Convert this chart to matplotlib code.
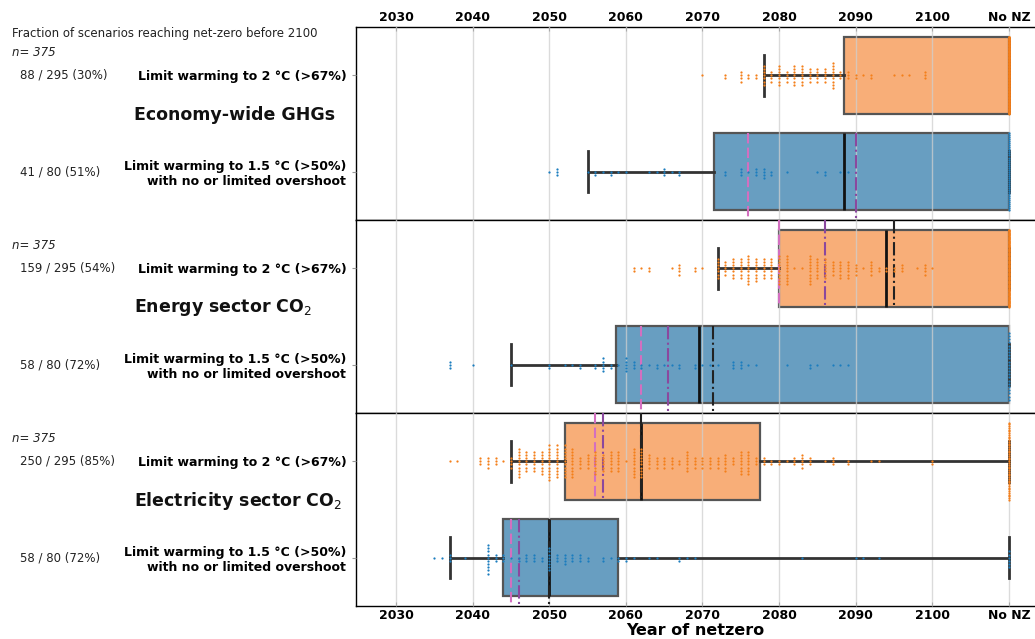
import numpy as np
import matplotlib
matplotlib.use("Agg")
import matplotlib.pyplot as plt
from matplotlib.transforms import blended_transform_factory

NO_NZ = 2110  # plotting position for "No net-zero"

# ---------------- data (year of net-zero -> number of scenarios) ----------------
sectors = ["Economy-wide GHGs", "Energy sector CO$_2$", "Electricity sector CO$_2$"]
pathways = ["Limit warming to 2 °C (>67%)",
            "Limit warming to 1.5 °C (>50%)\nwith no or limited overshoot"]
n_total = [375, 375, 375]
frac_2c = ["88 / 295 (30%)", "159 / 295 (54%)", "250 / 295 (85%)"]
frac_15 = ["41 / 80 (51%)", "58 / 80 (72%)", "58 / 80 (72%)"]

ghg_2c_years = [2070, 2073, 2075, 2076, 2077, 2078, 2079, 2080, 2081, 2082, 2083, 2084,
                2085, 2086, 2087, 2088, 2089, 2090, 2091, 2092, 2095, 2096, 2097, 2099, 2110]
ghg_2c_counts = [1, 2, 4, 2, 2, 7, 4, 7, 4, 7, 7, 5, 5, 5, 9, 3, 3, 2, 1, 2, 1, 1, 1, 3, 207]

ghg_15_years = [2050, 2051, 2055, 2056, 2057, 2058, 2059, 2060, 2063, 2064, 2065, 2066, 2067,
                2073, 2075, 2076, 2077, 2078, 2079, 2081, 2085, 2086, 2088, 2089, 2110]
ghg_15_counts = [1, 3, 1, 2, 1, 2, 1, 1, 1, 1, 3, 1, 2, 2, 3, 1, 3, 4, 2, 1, 1, 2, 1, 1, 39]

energy_2c_years = [2061, 2062, 2063, 2066, 2067, 2069, 2070, 2072, 2073, 2074, 2075, 2076,
                   2077, 2078, 2079, 2080, 2081, 2082, 2083, 2084, 2085, 2086, 2087, 2088,
                   2089, 2090, 2091, 2092, 2093, 2094, 2095, 2096, 2098, 2099, 2100, 2110]
energy_2c_counts = [2, 1, 2, 1, 4, 2, 1, 7, 5, 7, 7, 10, 8, 7, 7, 10, 10, 1, 1, 10, 7, 7, 5, 6,
                    6, 4, 1, 5, 2, 2, 2, 3, 1, 4, 1, 136]

energy_15_years = [2037, 2040, 2045, 2050, 2052, 2053, 2054, 2056, 2057, 2058, 2059, 2060,
                   2061, 2062, 2063, 2064, 2065, 2066, 2067, 2069, 2070, 2071, 2072, 2074,
                   2075, 2076, 2077, 2081, 2084, 2085, 2087, 2088, 2089, 2110]
energy_15_counts = [3, 1, 1, 2, 1, 1, 2, 2, 5, 2, 1, 5, 3, 2, 1, 2, 1, 1, 2, 2, 1, 1, 1, 3,
                    3, 1, 1, 1, 2, 1, 1, 1, 1, 22]

elec_2c_years = [2037, 2038, 2041, 2042, 2043, 2044, 2045, 2046, 2047, 2048, 2049, 2050,
                 2051, 2052, 2053, 2054, 2055, 2056, 2057, 2058, 2059, 2060, 2061, 2062,
                 2063, 2064, 2065, 2066, 2067, 2068, 2069, 2070, 2071, 2072, 2073, 2074,
                 2075, 2076, 2077, 2078, 2079, 2080, 2081, 2082, 2083, 2084, 2086, 2087,
                 2089, 2092, 2093, 2100, 2110]
elec_2c_counts = [1, 1, 3, 4, 3, 1, 4, 10, 7, 7, 8, 12, 11, 11, 10, 4, 5, 8, 6, 7, 7, 1, 10, 10,
                  5, 4, 4, 4, 2, 7, 4, 4, 4, 4, 6, 3, 8, 8, 3, 3, 2, 2, 1, 3, 5, 3, 1, 3,
                  2, 1, 1, 2, 45]

elec_15_years = [2035, 2036, 2037, 2039, 2042, 2043, 2044, 2045, 2046, 2047, 2048, 2049,
                 2050, 2051, 2052, 2053, 2054, 2055, 2057, 2058, 2059, 2060, 2061, 2063,
                 2064, 2067, 2068, 2069, 2083, 2090, 2091, 2093, 2110]
elec_15_counts = [1, 1, 3, 1, 10, 3, 3, 1, 2, 3, 3, 2, 8, 3, 4, 3, 3, 2, 2, 1, 2, 2, 1, 1,
                  1, 2, 1, 1, 1, 1, 1, 1, 6]

# reference years drawn as vertical lines (None = not shown)
ref_pink_2c = [None, 2080.0, 2056.0]
ref_pink_15 = [2076.0, 2062.0, 2045.0]
ref_purple_2c = [None, 2086.0, 2057.0]
ref_purple_15 = [2090.0, 2065.5, 2046.0]
ref_black_2c = [None, 2095.0, 2062.0]
ref_black_15 = [None, 2071.4, 2050.0]

tick_years = [2030, 2040, 2050, 2060, 2070, 2080, 2090, 2100, 2110]
tick_labels = ["2030", "2040", "2050", "2060", "2070", "2080", "2090", "2100", "No NZ"]

years_2c = [ghg_2c_years, energy_2c_years, elec_2c_years]
counts_2c = [ghg_2c_counts, energy_2c_counts, elec_2c_counts]
years_15 = [ghg_15_years, energy_15_years, elec_15_years]
counts_15 = [ghg_15_counts, energy_15_counts, elec_15_counts]

# ---------------- style ----------------
box_face = ["#F8AE78", "#689EC1"]
dot_col = ["#F47F1A", "#1B7DBE"]
pink = "#D36FC0"
purple = "#8B489E"
FIG_W, FIG_H = 1035, 639


def swarm_offsets(n, d=0.033, half=0.4):
    if n * d > 2 * half:
        return np.linspace(-half, half, n)
    k = np.arange(n)
    return ((k + 1) // 2) * d * np.where(k % 2 == 1, 1.0, -1.0)


fig = plt.figure(figsize=(FIG_W / 100, FIG_H / 100), dpi=100)
axes = fig.subplots(3, 1, sharex=True,
                    gridspec_kw=dict(hspace=0, left=356 / FIG_W, right=1.0,
                                     top=1 - 27 / FIG_H, bottom=1 - 606 / FIG_H))

for i, ax in enumerate(axes):
    data = [np.repeat(years_2c[i], counts_2c[i]), np.repeat(years_15[i], counts_15[i])]
    bp = ax.boxplot(data, positions=[0, 1], orientation="horizontal", widths=0.8,
                    whis=(5, 95), showfliers=False, patch_artist=True, capwidths=0.42,
                    boxprops=dict(edgecolor="#555555", linewidth=1.6),
                    whiskerprops=dict(color="#333333", linewidth=2.0),
                    capprops=dict(color="#333333", linewidth=2.0),
                    medianprops=dict(color="#111111", linewidth=2.0))
    for patch, fc in zip(bp["boxes"], box_face):
        patch.set_facecolor(fc)
        patch.set_zorder(1.5)
    for art in bp["whiskers"] + bp["caps"] + bp["medians"]:
        art.set_zorder(4)

    # reference lines
    for row, (p, q, b) in enumerate([(ref_pink_2c[i], ref_purple_2c[i], ref_black_2c[i]),
                                     (ref_pink_15[i], ref_purple_15[i], ref_black_15[i])]):
        y0, y1 = (-0.5, 0.4) if row == 0 else (0.6, 1.5)
        if p is not None:
            ax.vlines(p, y0, y1, colors=pink, linestyles=(0, (5, 2)), linewidth=1.5, zorder=5)
        if q is not None:
            ax.vlines(q, y0, y1, colors=purple, linestyles="-.", linewidth=1.5, zorder=5)
        if b is not None:
            ax.vlines(b, y0, y1, colors="#222222", linestyles="-.", linewidth=1.5, zorder=5)

    # swarm of individual scenarios (on top)
    for row, (yrs, cnts) in enumerate([(years_2c[i], counts_2c[i]), (years_15[i], counts_15[i])]):
        xs, ys = [], []
        for y, c in zip(yrs, cnts):
            xs.extend([y] * c)
            ys.extend(row + swarm_offsets(c))
        ax.scatter(xs, ys, s=2.6, marker="o", color=dot_col[row], linewidths=0, zorder=6)

    ax.set_ylim(1.5, -0.5)
    ax.set_xlim(2024.78, 2113.4)
    ax.set_yticks([0, 1])
    ax.set_yticklabels(pathways, fontweight="bold", fontsize=9, multialignment="right")
    ax.tick_params(axis="y", length=3, color="#999999", pad=4)
    ax.set_xticks(tick_years)
    ax.grid(axis="x", color="#cfcfcf", linewidth=1.0, alpha=0.75)
    ax.set_axisbelow(False)
    ax.spines["right"].set_visible(False)
    for s in ["left", "top", "bottom"]:
        ax.spines[s].set_color("black")
        ax.spines[s].set_linewidth(1.0)

    tr = blended_transform_factory(fig.transFigure, ax.transData)
    ax.text(12 / FIG_W, -0.24, f"n= {n_total[i]}", transform=tr, fontsize=8.5,
            style="italic", va="center", ha="left", color="#222222")
    ax.text(20 / FIG_W, 0, frac_2c[i], transform=tr, fontsize=8.5, va="center",
            ha="left", color="#222222")
    ax.text(20 / FIG_W, 1, frac_15[i], transform=tr, fontsize=8.5, va="center",
            ha="left", color="#222222")
    ax.text(134 / FIG_W, 0.41, sectors[i], transform=tr, fontsize=12.5,
            fontweight="bold", va="center", ha="left", color="#111111")

# x tick labels: top on first axes, bottom on last
axes[0].tick_params(axis="x", which="both", top=True, labeltop=True, bottom=False,
                    labelbottom=False, length=3, direction="in", color="#aaaaaa", pad=2)
axes[1].tick_params(axis="x", which="both", top=False, bottom=False, labelbottom=False,
                    length=3, direction="in", color="#aaaaaa")
axes[2].tick_params(axis="x", which="both", top=False, bottom=True, labelbottom=True,
                    length=3, direction="in", color="#aaaaaa", pad=2)
for ax in (axes[0], axes[2]):
    ax.set_xticks(tick_years)
    ax.set_xticklabels(tick_labels, fontweight="bold", fontsize=9)
axes[0].xaxis.set_ticks_position("top")
axes[0].xaxis.set_tick_params(labeltop=True, labelbottom=False)
axes[2].set_xlabel("Year of netzero", fontweight="bold", fontsize=11.5, labelpad=1)

fig.text(12 / FIG_W, 1 - 33 / FIG_H, "Fraction of scenarios reaching net-zero before 2100",
         fontsize=8.5, va="center", ha="left", color="#222222")

fig.savefig("out.png", dpi=100)
